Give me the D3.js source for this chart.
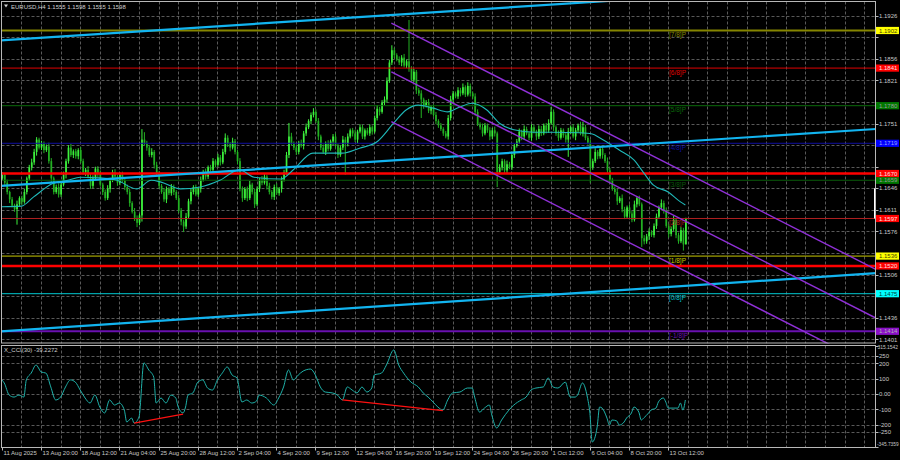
<!DOCTYPE html>
<html><head><meta charset="utf-8">
<script src="https://cdn.jsdelivr.net/npm/d3@7/dist/d3.min.js"></script>
<style>html,body{margin:0;padding:0;background:#000;overflow:hidden}svg{display:block}text{font-family:"Liberation Sans",Arial,sans-serif}</style>
</head><body>
<svg id="chart" width="900" height="460"></svg>
<script>
// ---------------- DATA ----------------
const firstOpen = 1.1662;
const closes = [
1.1668,1.1655,1.1640,1.1628,1.1618,1.1612,1.1620,1.1630,1.1624,1.1640,
1.1662,1.1680,1.1688,1.1705,1.1725,1.1712,1.1718,1.1708,1.1714,1.1690,
1.1662,1.1640,1.1648,1.1636,1.1652,1.1668,1.1690,1.1712,1.1700,1.1706,
1.1698,1.1708,1.1690,1.1672,1.1676,1.1665,1.1650,1.1662,1.1678,1.1670,
1.1652,1.1640,1.1630,1.1645,1.1660,1.1672,1.1665,1.1655,1.1668,1.1658,
1.1648,1.1640,1.1622,1.1608,1.1598,1.1590,1.1602,1.1725,1.1718,1.1712,
1.1700,1.1705,1.1684,1.1670,1.1650,1.1640,1.1628,1.1645,1.1638,1.1648,
1.1640,1.1630,1.1610,1.1592,1.1584,1.1600,1.1625,1.1640,1.1648,1.1636,
1.1645,1.1660,1.1672,1.1665,1.1680,1.1676,1.1690,1.1684,1.1696,1.1688,
1.1705,1.1728,1.1718,1.1712,1.1722,1.1705,1.1690,1.1645,1.1630,1.1645,
1.1630,1.1652,1.1640,1.1620,1.1645,1.1660,1.1655,1.1665,1.1650,1.1640,
1.1632,1.1648,1.1638,1.1645,1.1660,1.1672,1.1700,1.1730,1.1718,1.1712,
1.1705,1.1720,1.1715,1.1735,1.1745,1.1755,1.1765,1.1770,1.1755,1.1730,
1.1712,1.1705,1.1718,1.1710,1.1722,1.1730,1.1715,1.1700,1.1712,1.1725,
1.1718,1.1730,1.1740,1.1735,1.1725,1.1738,1.1745,1.1730,1.1740,1.1735,
1.1745,1.1738,1.1760,1.1775,1.1770,1.1785,1.1790,1.1820,1.1850,1.1870,
1.1862,1.1855,1.1850,1.1858,1.1845,1.1852,1.1840,1.1822,1.1835,1.1805,
1.1800,1.1790,1.1780,1.1785,1.1772,1.1778,1.1765,1.1755,1.1748,1.1742,
1.1735,1.1730,1.1760,1.1790,1.1800,1.1795,1.1805,1.1800,1.1810,1.1798,
1.1812,1.1800,1.1795,1.1770,1.1750,1.1745,1.1735,1.1748,1.1740,1.1730,
1.1740,1.1735,1.1672,1.1680,1.1690,1.1675,1.1685,1.1680,1.1700,1.1715,
1.1722,1.1738,1.1730,1.1742,1.1735,1.1728,1.1745,1.1738,1.1730,1.1742,
1.1735,1.1748,1.1740,1.1752,1.1770,1.1745,1.1735,1.1728,1.1740,1.1732,
1.1725,1.1738,1.1745,1.1730,1.1740,1.1748,1.1735,1.1745,1.1728,1.1720,
1.1680,1.1690,1.1705,1.1698,1.1710,1.1700,1.1690,1.1675,1.1660,1.1645,
1.1640,1.1625,1.1630,1.1612,1.1600,1.1615,1.1605,1.1595,1.1620,1.1630,
1.1620,1.1565,1.1560,1.1568,1.1575,1.1570,1.1585,1.1600,1.1615,1.1622,
1.1610,1.1585,1.1572,1.1580,1.1595,1.1570,1.1560,1.1578,1.1555,1.1598];
// upper / lower shadow lengths in pips
const upWick = [
4,3,5,2,4,3,6,3,4,5, 3,4,6,5,4,3,5,4,3,6, 5,3,4,6,3,5,4,4,6,3, 4,3,5,4,3,6,4,5,3,4,
5,3,4,6,3,4,5,3,4,5, 3,4,5,3,6,4,3,17,12,5, 4,6,3,5,4,3,6,4,3,5, 4,3,5,4,3,6,4,5,3,4,
3,5,4,6,3,4,5,3,6,4, 5,7,4,3,6,4,3,5,4,3, 4,6,3,5,4,3,6,4,3,5, 3,4,6,3,5,4,5,22,6,4,
4,3,5,4,6,3,4,6,4,5, 3,5,4,6,3,4,5,3,4,6, 4,5,3,4,6,3,5,4,3,4, 5,3,4,6,3,4,5,6,4,8,
4,3,5,4,6,3,67,4,5,3, 4,5,3,4,6,3,4,5,3,4, 3,4,5,6,4,3,5,4,6,3, 6,4,3,5,4,3,6,4,3,5,
4,6,3,5,4,3,6,4,5,3, 4,5,3,6,4,3,5,4,3,6, 5,3,4,6,8,4,3,5,4,3, 4,6,3,5,4,3,6,9,4,3,
5,4,6,3,5,4,3,6,4,3, 4,5,3,6,4,3,5,4,6,3, 4,3,5,4,6,3,4,5,3,6, 4,5,3,4,6,3,4,5,4,0];
const downWick = [
3,5,4,6,3,4,25,4,5,3, 4,3,5,4,6,3,4,5,3,4, 6,4,3,5,4,3,6,4,3,5, 4,5,3,4,6,3,5,4,3,6,
3,5,4,3,6,4,3,5,4,3, 5,4,6,3,5,7,4,10,3,5, 3,4,6,4,5,3,4,6,3,4, 5,3,4,6,9,4,3,5,4,3,
4,6,3,5,4,3,6,4,3,5, 3,4,5,6,3,4,5,4,6,3, 5,3,4,6,3,5,4,3,6,4, 4,5,3,4,6,3,4,5,3,4,
5,4,3,6,4,3,5,4,3,6, 4,3,5,4,3,6,4,5,3,4, 50,4,3,5,4,6,3,4,5,3, 4,5,3,4,6,3,4,5,3,4,
5,3,4,6,3,4,5,3,4,6, 4,30,5,3,4,6,3,5,4,3, 4,3,5,4,6,3,4,5,3,4, 3,5,4,6,3,4,5,3,4,6,
4,5,24,3,5,4,6,3,4,5, 3,4,6,5,3,4,5,3,6,4, 4,3,5,4,3,6,4,5,3,4, 5,28,4,3,6,4,3,5,4,3,
25,4,3,5,4,6,3,4,5,3, 4,6,3,5,4,3,6,4,3,5, 3,14,5,4,6,3,4,5,3,4, 5,3,6,4,3,5,4,3,10,0];

const maBars = [0,8,13,21,27,32,40,47,55,61,65,73,81,89,97,103,114,119,127,139,146,153,160,165,170,176,182,187,192,198,203,209,217,225,236,241,244,252,258,262,266,272,277,279];
const maVals = [1.1616,1.1617,1.1632,1.1654,1.1659,1.1664,1.1663,1.1659,1.1645,1.1659,1.1656,1.1645,1.1648,1.1659,1.1676,1.1664,1.1661,1.1676,1.1703,1.1703,1.1711,1.1721,1.1752,1.1773,1.1781,1.1776,1.1770,1.1778,1.1784,1.1773,1.1752,1.1741,1.1737,1.1737,1.1736,1.1734,1.1728,1.1708,1.1692,1.1671,1.1651,1.1640,1.1624,1.1619];

const cciBars = [0,1,3,5,7,9,10,12,14,15,16,18,20,22,24,26,28,30,32,34,36,38,40,42,44,46,48,50,51,53,54,56,58,60,62,63,65,67,69,71,72,74,75,76,78,80,82,84,86,88,90,92,94,96,98,100,102,104,105,108,111,113,115,117,119,121,123,126,128,130,132,135,137,139,141,143,145,147,149,151,152,155,157,160,162,164,167,170,172,174,176,178,180,182,184,187,190,192,193,195,197,199,200,202,204,207,209,212,214,216,218,221,223,225,227,230,232,234,235,237,239,240,241,243,244,245,247,248,249,251,252,254,255,257,258,260,261,262,264,265,267,268,270,271,272,274,276,277,278,279];
const cciVals = [92,72,-7,-20,-7,-20,92,137,190,170,144,137,46,-39,-20,46,92,78,26,-26,-59,-7,-85,-124,-39,-72,-59,-105,-183,-157,-190,-150,203,157,111,-59,-26,-59,-7,-26,-85,-124,-85,-7,7,78,92,39,26,92,137,177,124,105,-52,-39,-59,-46,-7,-26,-72,-26,46,157,92,124,150,163,124,46,13,7,-7,-39,46,26,7,46,13,39,124,137,190,288,190,137,78,46,7,-20,-52,-85,-105,-39,7,13,39,39,-20,-118,-92,-72,-137,-222,-170,-105,-72,-39,-20,26,39,46,105,46,39,78,-20,-20,-7,72,-20,-118,-314,-216,-85,-92,-157,-203,-170,-176,-203,-183,-157,-124,-85,-118,-170,-157,-124,-105,-92,-52,-26,-52,-92,-92,-92,-59,-105,-39.2272];

const dateLabels = ["11 Aug 2025","13 Aug 20:00","18 Aug 12:00","21 Aug 04:00","25 Aug 20:00","28 Aug 12:00","2 Sep 04:00","4 Sep 20:00","9 Sep 12:00","12 Sep 04:00","16 Sep 20:00","19 Sep 12:00","24 Sep 04:00","26 Sep 20:00","1 Oct 12:00","6 Oct 04:00","8 Oct 20:00","13 Oct 12:00"];
const priceTicks = [1.1926,1.1891,1.1856,1.1821,1.1786,1.1751,1.1716,1.1681,1.1646,1.1611,1.1576,1.1541,1.1506,1.1471,1.1436,1.1401];
const cciTicks = [315.1542,250,200,100,0,-100,-200,-250,-345.7359];
const cciTickText = ["315.1542","250","200","100","0.00","-100","-200","-250","-345.7359"];
const cciGrid = [250,200,100,0,-100,-200,-250];

const murrayVals = [1.1902,1.1841,1.1780,1.1719,1.1659,1.1597,1.1536,1.1475,1.1414];
const murrayNames = ["[7/8]P","[6/8]P","[5/8]P","[4/8]P","[3/8]P","[2/8]P","[1/8]P","[0/8]P","[-1/8]P"];
const murrayLine = ["#868600","#e00000","#0b6a0b","#1010a0","#0a5a0a","#b02020","#c8c800","#00c8d0","#6a10b0"];
const murrayWidth = [2,1,1,1,1,1,1,1,2];
const murrayBox = ["#ffff00","#ff0000","#007800","#0000ff","#007800","#ff0000","#ffff00","#00ffff","#8a10c8"];
const murrayBoxText = ["#404000","#ffe0e0","#9a9a9a","#9aa0ff","#9a9a9a","#ffe0e0","#404000","#004040","#b0b0b0"];
const srVals = [1.1670,1.1520];

// trend lines: [bar1, price1, bar2, price2]
const cyanLines = [[0,1.1886,240,1.1948],[0,1.1650,356,1.1742],[0,1.1414,356,1.1508]];
const channelLines = [[159,1.1914,356,1.1516],[159,1.1835,356,1.1437],[159,1.1754,356,1.1356]];
const cciDivLines = [[54,-190,74,-131],[139,-39,180,-109]];

// ---------------- LAYOUT ----------------
const svg = d3.select("#chart");
svg.append("rect").attr("width",900).attr("height",460).attr("fill","#000");
const P = {l:1.5, r:875.5, t:1.5, mb:343.5, it:345.5, ib:447.5};
const x = d3.scaleLinear().domain([0,279]).range([1.8,685.35]);
const y = d3.scaleLinear().domain([1.1926,1.1401]).range([15.7,339.3]);
const yc = d3.scaleLinear().domain([315.1542,-345.7359]).range([345.8,446.9]);
const FS = 6;

const defs = svg.append("defs");
defs.append("clipPath").attr("id","cm").append("rect").attr("x",P.l).attr("y",P.t).attr("width",P.r-P.l).attr("height",P.mb-P.t);
defs.append("clipPath").attr("id","ci").append("rect").attr("x",P.l).attr("y",P.it).attr("width",P.r-P.l).attr("height",P.ib-P.it);

const gMain = svg.append("g").attr("clip-path","url(#cm)");
const gInd = svg.append("g").attr("clip-path","url(#ci)");

// grid
const gridBars = d3.range(8,400,8).filter(b => x(b) < P.r-1);
const gridStyle = s => s.attr("stroke","#707070").attr("stroke-width",0.8).attr("stroke-dasharray","3,2");
gMain.selectAll(".gv").data(gridBars).join("line").attr("x1",d=>Math.round(x(d))+0.5).attr("x2",d=>Math.round(x(d))+0.5).attr("y1",P.t).attr("y2",P.mb).call(gridStyle);
gMain.selectAll(".gh").data(priceTicks).join("line").attr("x1",P.l).attr("x2",P.r).attr("y1",d=>Math.round(y(d))+0.5).attr("y2",d=>Math.round(y(d))+0.5).call(gridStyle);
gInd.selectAll(".gv").data(gridBars).join("line").attr("x1",d=>Math.round(x(d))+0.5).attr("x2",d=>Math.round(x(d))+0.5).attr("y1",P.it).attr("y2",P.ib).call(gridStyle);
gInd.selectAll(".gh").data(cciGrid).join("line").attr("x1",P.l).attr("x2",P.r).attr("y1",d=>Math.round(yc(d))+0.5).attr("y2",d=>Math.round(yc(d))+0.5).call(gridStyle);

// candles
const bars = closes.map((c,i) => {
  const o = i===0 ? firstOpen : closes[i-1];
  return {i, o, c, h: Math.max(o,c)+upWick[i]*1e-4, l: Math.min(o,c)-downWick[i]*1e-4};
});
const bull = "#3cf03c", bear = "#22b022";
gMain.selectAll(".wick").data(bars).join("line")
  .attr("x1",d=>x(d.i)+0.5).attr("x2",d=>x(d.i)+0.5)
  .attr("y1",d=>y(d.h)).attr("y2",d=>y(d.l))
  .attr("stroke",d=>d.c>=d.o?bull:bear).attr("stroke-width",1);
gMain.selectAll(".body").data(bars).join("rect")
  .attr("x",d=>x(d.i)-0.3).attr("width",1.7)
  .attr("y",d=>y(Math.max(d.o,d.c))).attr("height",d=>Math.max(1,Math.abs(y(d.o)-y(d.c))))
  .attr("fill",d=>d.c>=d.o?bull:bear);

// murray levels
murrayVals.forEach((v,k)=>{
  gMain.append("line").attr("x1",P.l).attr("x2",P.r).attr("y1",y(v)).attr("y2",y(v))
    .attr("stroke",murrayLine[k]).attr("stroke-width",murrayWidth[k]);
  gMain.append("text").attr("x",669).attr("y",y(v)+6.5).attr("font-size",FS+0.5)
    .attr("fill",murrayLine[k]).text(murrayNames[k]);
});
// support / resistance
srVals.forEach(v=>{
  gMain.append("line").attr("x1",P.l).attr("x2",P.r).attr("y1",y(v)).attr("y2",y(v))
    .attr("stroke","#ff0000").attr("stroke-width",2.5);
});

// moving average
const maLine = d3.line().x((d,k)=>x(maBars[k])).y(d=>y(d)).curve(d3.curveMonotoneX);
gMain.append("path").attr("d",maLine(maVals)).attr("fill","none").attr("stroke","#1fb8b8").attr("stroke-width",1.1);

// trend lines (extended to panel edges)
function extend(seg, x0, x1){
  const [b1,p1,b2,p2] = seg, s=(p2-p1)/(b2-b1);
  return [[x0,p1+s*(x0-b1)],[x1,p1+s*(x1-b1)]];
}
cyanLines.forEach(seg=>{
  const e = extend(seg,-2,380);
  gMain.append("line").attr("x1",x(e[0][0])).attr("y1",y(e[0][1])).attr("x2",x(e[1][0])).attr("y2",y(e[1][1]))
    .attr("stroke","#12b4f0").attr("stroke-width",2.2);
});
channelLines.forEach(seg=>{
  const e = extend(seg,seg[0],380);
  gMain.append("line").attr("x1",x(e[0][0])).attr("y1",y(e[0][1])).attr("x2",x(e[1][0])).attr("y2",y(e[1][1]))
    .attr("stroke","#9030d8").attr("stroke-width",1.4);
});

// CCI
const cciLine = d3.line().x((d,k)=>x(cciBars[k])).y(d=>yc(d)).curve(d3.curveMonotoneX);
gInd.append("path").attr("d",cciLine(cciVals)).attr("fill","none").attr("stroke","#1fb0a8").attr("stroke-width",1);
cciDivLines.forEach(s=>{
  gInd.append("line").attr("x1",x(s[0])).attr("y1",yc(s[1])).attr("x2",x(s[2])).attr("y2",yc(s[3]))
    .attr("stroke","#ff1010").attr("stroke-width",1.3);
});

// frames
svg.append("rect").attr("x",P.l).attr("y",P.t).attr("width",P.r-P.l).attr("height",P.mb-P.t-0.5)
  .attr("fill","none").attr("stroke","#b8b8b8").attr("stroke-width",1);
svg.append("rect").attr("x",P.l).attr("y",P.it).attr("width",P.r-P.l).attr("height",P.ib-P.it)
  .attr("fill","none").attr("stroke","#b8b8b8").attr("stroke-width",1);

// right axis: price ticks (labels hidden where a level box covers them)
const axG = svg.append("g");
const boxVals = murrayVals.concat(srVals);
priceTicks.forEach(v=>{
  axG.append("line").attr("x1",P.r).attr("x2",P.r+3).attr("y1",Math.round(y(v))+0.5).attr("y2",Math.round(y(v))+0.5).attr("stroke","#b8b8b8");
  const covered = boxVals.some(b => Math.abs(y(b)-y(v)) < 7.5);
  if(!covered) axG.append("text").attr("x",879).attr("y",y(v)+2.2).attr("font-size",FS).attr("fill","#c8c8c8").text(v.toFixed(4));
});
// level boxes
const boxes = murrayVals.map((v,k)=>({v, bg:murrayBox[k], fg:murrayBoxText[k]}))
  .concat(srVals.map(v=>({v, bg:"#ff0000", fg:"#ffe0e0"})));
boxes.forEach(b=>{
  axG.append("rect").attr("x",876).attr("y",y(b.v)-3.6).attr("width",23).attr("height",7.2).attr("fill",b.bg);
  axG.append("text").attr("x",879).attr("y",y(b.v)+2.2).attr("font-size",FS).attr("fill",b.fg).text(b.v.toFixed(4));
});
// current price marker
axG.append("line").attr("x1",P.r-1).attr("x2",P.r-1).attr("y1",y(1.1646)).attr("y2",y(1.1597)).attr("stroke","#ffffff").attr("stroke-width",1);

// CCI axis
cciTicks.forEach((v,k)=>{
  let ty = yc(v)+2.2, fs = FS, tx = 879;
  if(k===0){ ty = yc(v)+2.8; fs = 4.9; tx = 877.5; }
  if(k===cciTicks.length-1){ ty = yc(v)-1; fs = 4.8; tx = 877; }
  axG.append("text").attr("x",tx).attr("y",ty).attr("font-size",fs).attr("fill","#c8c8c8").text(cciTickText[k]);
  axG.append("line").attr("x1",P.r).attr("x2",P.r+3).attr("y1",Math.round(yc(v))+0.5).attr("y2",Math.round(yc(v))+0.5).attr("stroke","#b8b8b8");
});

// date axis
dateLabels.forEach((t,k)=>{
  const xx = Math.round(x(k*16))+0.5;
  axG.append("line").attr("x1",xx).attr("x2",xx).attr("y1",P.ib).attr("y2",P.ib+3).attr("stroke","#b8b8b8");
  axG.append("text").attr("x",xx+1).attr("y",455).attr("font-size",FS).attr("fill","#c8c8c8").text(t);
});

// titles
axG.append("path").attr("d","M4,4.5 L8,4.5 L6,7.5 Z").attr("fill","#d0d0d0");
axG.append("text").attr("x",11).attr("y",9).attr("font-size",FS).attr("fill","#d0d0d0")
  .text("EURUSD,H4  1.1555 1.1598 1.1555 1.1598");
axG.append("text").attr("x",4).attr("y",352).attr("font-size",FS).attr("fill","#d0d0d0")
  .text("X_CCI(30) -39.2272");
</script>
</body></html>
